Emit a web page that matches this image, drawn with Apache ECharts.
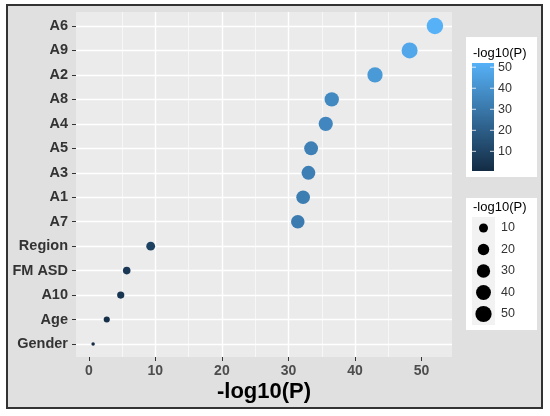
<!DOCTYPE html>
<html>
<head>
<meta charset="utf-8">
<script src="https://cdn.jsdelivr.net/npm/echarts@6/dist/echarts.min.js"></script>
<style>
  html, body { margin: 0; padding: 0; background: #fff; }
  #chart { width: 550px; height: 416px; }
</style>
</head>
<body>
<div id="chart"></div>
<script>
// data
var categories = ['A6', 'A9', 'A2', 'A8', 'A4', 'A5', 'A3', 'A1', 'A7', 'Region', 'FM ASD', 'A10', 'Age', 'Gender'];
var logP = [52.0, 48.2, 43.0, 36.5, 35.6, 33.4, 33.0, 32.2, 31.4, 9.3, 5.7, 4.8, 2.7, 0.65];
var xTicks = [0, 10, 20, 30, 40, 50];
var legendBreaks = [10, 20, 30, 40, 50];

var lowColor = '#132B43', highColor = '#56B1F7';
var font = '"Liberation Sans", Arial, sans-serif';
var vMin = Math.min.apply(null, logP);
var vMax = Math.max.apply(null, logP);
var pad = (vMax - vMin) * 0.05;

// ggplot style area scale: diameter grows with sqrt of the value
function dotSize(v) {
    return 3.5 + 13 * Math.sqrt((v - vMin) / (vMax - vMin));
}

var chart = echarts.init(document.getElementById('chart'));

// legends (colour bar + size keys)
var barTop = 63, barH = 108, barX = 472, barW = 22;
function barY(v) { return barTop + barH - (v - vMin) / (vMax - vMin) * barH; }

var legendEls = [
    { type: 'rect', z: -100, shape: { x: 7, y: 5, width: 535, height: 403 },
      style: { fill: '#e0e0e0', stroke: '#333', lineWidth: 2 } },
    { type: 'rect', shape: { x: 466, y: 37, width: 71, height: 140 }, style: { fill: '#fff' } },
    { type: 'text', x: 473, y: 53, style: { text: '-log10(P)', font: '13px ' + font, fill: '#000', verticalAlign: 'middle' } },
    { type: 'rect', shape: { x: barX, y: barTop, width: barW, height: barH },
      style: { fill: new echarts.graphic.LinearGradient(0, 0, 0, 1, [
          { offset: 0, color: highColor }, { offset: 1, color: lowColor }]) } },
    { type: 'rect', shape: { x: 466, y: 198, width: 71, height: 132 }, style: { fill: '#fff' } },
    { type: 'text', x: 473, y: 207, style: { text: '-log10(P)', font: '13px ' + font, fill: '#000', verticalAlign: 'middle' } },
    { type: 'rect', shape: { x: 472, y: 217, width: 23, height: 108 }, style: { fill: '#f2f2f2' } }
];
legendBreaks.forEach(function (b, i) {
    var y = barY(b);
    legendEls.push(
        { type: 'line', shape: { x1: barX, y1: y, x2: barX + 4, y2: y }, style: { stroke: '#fff', lineWidth: 1, opacity: 0.8 } },
        { type: 'line', shape: { x1: barX + barW - 4, y1: y, x2: barX + barW, y2: y }, style: { stroke: '#fff', lineWidth: 1, opacity: 0.8 } },
        { type: 'text', x: 498, y: y, style: { text: String(b), font: '12.5px ' + font, fill: '#333', verticalAlign: 'middle' } }
    );
    var cy = 228 + i * 21.5;
    legendEls.push(
        { type: 'circle', shape: { cx: 483.5, cy: cy, r: dotSize(b) / 2 }, style: { fill: '#000' } },
        { type: 'text', x: 501, y: cy, style: { text: String(b), font: '12.5px ' + font, fill: '#333', verticalAlign: 'middle' } }
    );
});

var option = {
    backgroundColor: '#fff',
    animation: false,
    grid: [
        { left: 76, right: 98, top: 12, bottom: 59, show: true, backgroundColor: '#ebebeb', borderWidth: 0 },
        { left: 76, right: 98, top: 26, bottom: 72 }
    ],
    xAxis: [
        {
            gridIndex: 0, type: 'value', min: -1.92, max: vMax + pad,
            name: '-log10(P)', nameLocation: 'middle', nameGap: 24, nameMoveOverlap: false,
            nameTextStyle: { fontFamily: font, fontWeight: 'bold', fontSize: 22, color: '#000' },
            axisLine: { show: false, onZero: false },
            axisTick: { show: true, length: 4, lineStyle: { color: '#333' }, customValues: xTicks },
            axisLabel: { fontFamily: font, fontWeight: 'bold', fontSize: 14, color: '#4d4d4d', margin: 7, customValues: xTicks },
            splitLine: { show: true, showMinLine: false, showMaxLine: false, lineStyle: { color: '#fff', width: 1.4 } },
            minorTick: { show: false, splitNumber: 2 },
            minorSplitLine: { show: true, lineStyle: { color: '#fff', width: 0.6 } }
        },
        { gridIndex: 1, type: 'value', min: -1.92, max: vMax + pad, show: false }
    ],
    yAxis: [
        { gridIndex: 0, type: 'value', show: false },
        {
            gridIndex: 1, type: 'category', data: categories, inverse: true, boundaryGap: false,
            axisLine: { show: false, onZero: false },
            axisTick: { show: true, length: 4, lineStyle: { color: '#333' } },
            axisLabel: { fontFamily: font, fontWeight: 'bold', fontSize: 14.5, color: '#333', margin: 8 },
            splitLine: { show: true, lineStyle: { color: '#fff', width: 1.4 } }
        }
    ],
    visualMap: {
        type: 'continuous', show: false, dimension: 0, seriesIndex: 0,
        min: vMin, max: vMax,
        inRange: { color: [lowColor, highColor] }
    },
    graphic: { elements: legendEls },
    series: [{
        type: 'scatter',
        xAxisIndex: 1, yAxisIndex: 1,
        data: logP.map(function (v, i) { return [v, categories[i]]; }),
        symbolSize: function (val) { return dotSize(val[0]); },
        itemStyle: { opacity: 1 }
    }]
};
chart.setOption(option);
</script>
</body>
</html>
